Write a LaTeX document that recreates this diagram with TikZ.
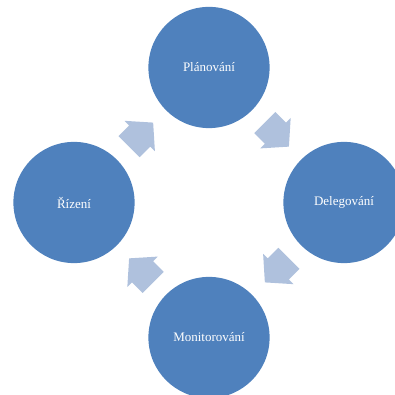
\documentclass[tikz,border=0pt]{standalone}
\usepackage{fontspec}
\setmainfont{Liberation Serif}
\usetikzlibrary{calc}
\definecolor{cycleblue}{HTML}{4F81BD}
\definecolor{cyclelight}{HTML}{AFC1DD}

\tikzset{
    phase/.style={circle, fill=cycleblue, minimum size=90.9pt, inner sep=0pt, text=white, font=\fontsize{9.75}{11}\selectfont},
    cyclearrow/.pic={
        \fill [cyclelight] (-17,-15) -- (-2,-15) -- (-2,-21.5) -- (17,0) -- (-2,21.5) -- (-2,15) -- (-17,15) -- cycle;
    }
}

\begin{document}
\begin{tikzpicture}[x=0.75pt, y=0.75pt]
        \useasboundingbox (0,0) rectangle (395,395);
        \clip (0,0) rectangle (395,395);

        \coordinate (M) at (209, 192.5);

        \node [phase] (Plan) at ($(M)+(90:135)$) {Plánování};
        \node [phase] (Dele) at ($(M)+(0:135)$) {Delegování};
        \node [phase] (Moni) at ($(M)+(-90:135)$) {Monitorování};
        \node [phase] (Rize) at ($(M)+(180:135)$) {Řízení};

        \foreach \a in {135, 45, -45, -135}
            \pic [rotate=\a-90] at ($(M)+(\a:96)$) {cyclearrow};
    \end{tikzpicture}
\end{document}
